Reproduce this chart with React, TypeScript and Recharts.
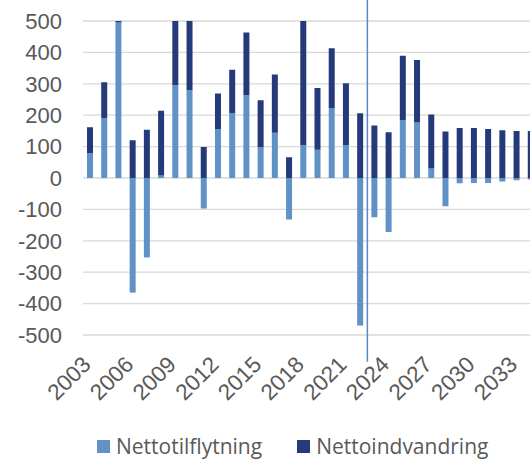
import React from 'react';
import { BarChart, Bar, XAxis, YAxis, CartesianGrid, Legend, ReferenceLine } from 'recharts';

const years = [
  '2003','2004','2005','2006','2007','2008','2009','2010','2011','2012',
  '2013','2014','2015','2016','2017','2018','2019','2020','2021','2022',
  '2023','2024','2025','2026','2027','2028','2029','2030','2031','2032',
  '2033','2034',
];
const nettotilflytning = [
  79, 191, 495, -365, -253, 8, 296, 280, -97, 155,
  206, 264, 98, 144, -132, 104, 90, 223, 104, -470,
  -125, -172, 185, 177, 30, -90, -17, -16, -16, -11,
  -7, -5,
];
const nettoindvandring = [
  83, 114, 5, 120, 154, 206, 204, 220, 99, 114,
  139, 199, 150, 186, 66, 396, 197, 190, 198, 206,
  167, 146, 204, 199, 172, 148, 159, 159, 156, 152,
  150, 150,
];
const yTicks = [500, 400, 300, 200, 100, 0, -100, -200, -300, -400, -500];
const seriesNames = ['Nettotilflytning', 'Nettoindvandring'];
const colors = ['#6192C6', '#243A7A'];
const markerYear = '2023';
const markerRange = [570, -585];

const data = years.map((y, i) => ({
  year: y,
  a: nettotilflytning[i],
  b: nettoindvandring[i],
}));

const FONT = '"Liberation Sans", Arial, sans-serif';
const GRAY = '#595959';

const XTick = (props: any) => {
  const { x, y, payload } = props;
  return (
    <g transform={`translate(${x + 2},${y + 23})`}>
      <text x={0} y={0} textAnchor="end" transform="rotate(-45)" fill={GRAY}
        style={{ fontFamily: FONT, fontSize: 22.5 }}>
        {payload.value}
      </text>
    </g>
  );
};

const LegendContent = () => (
  <div style={{ display: 'flex', alignItems: 'center', height: 26, marginTop: 12, paddingLeft: 97,
    fontFamily: '"Open Sans", sans-serif', fontSize: 21, color: GRAY }}>
    {seriesNames.map((n, i) => (
      <div key={n} style={{ display: 'flex', alignItems: 'center', marginRight: 35 }}>
        <div style={{ width: 13, height: 13, background: colors[i], marginRight: 6 }} />
        <span style={{ lineHeight: '26px' }}>{n}</span>
      </div>
    ))}
  </div>
);

export default function App() {
  return (
    <div style={{ position: 'fixed', left: 0, top: 0, width: 530, height: 459, overflow: 'hidden', background: '#fff' }}>
      <BarChart width={560} height={459} data={data} stackOffset="sign"
        margin={{ top: 21, right: 22, left: 0, bottom: 0 }}>
        <CartesianGrid vertical={false} stroke="#D9D9D9" strokeWidth={1.3} />
        <XAxis dataKey="year" interval={2} tickLine={false} axisLine={false}
          height={86} tick={<XTick />} />
        <YAxis domain={[-500, 500]} ticks={yTicks} allowDataOverflow width={83}
          tickLine={false} axisLine={false} tickMargin={15}
          tick={{ fill: GRAY, fontSize: 22, fontFamily: FONT }} />
        <Legend verticalAlign="bottom" height={38} content={<LegendContent />} />
        <Bar dataKey="a" name={seriesNames[0]} stackId="s" fill={colors[0]} barSize={6} isAnimationActive={false} />
        <Bar dataKey="b" name={seriesNames[1]} stackId="s" fill={colors[1]} barSize={6} isAnimationActive={false} />
        <ReferenceLine segment={[{ x: markerYear, y: markerRange[0] }, { x: markerYear, y: markerRange[1] }]}
          position="start" ifOverflow="visible" stroke="#5A87C6" strokeWidth={1.5} />
      </BarChart>
    </div>
  );
}
